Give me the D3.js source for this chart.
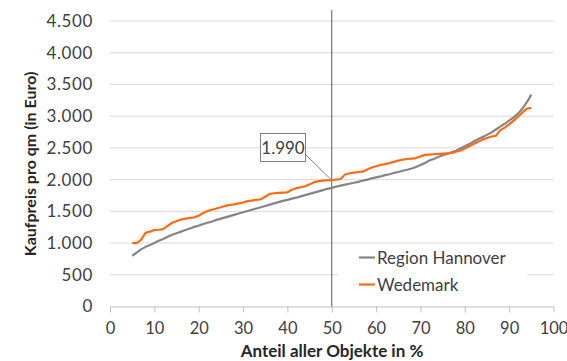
<!DOCTYPE html>
<html>
<head>
<meta charset="utf-8">
<script src="https://cdn.jsdelivr.net/npm/d3@7"></script>
<style>
  body { margin: 0; background: #fff; }
  svg { font-family: Lato, "Open Sans", sans-serif; }
</style>
</head>
<body>
<script>
// chart data
var pct = d3.range(5, 96);   // Anteil aller Objekte in % (5..95)
var hannover = [
  800, 850, 900, 940, 970, 1000, 1035, 1065, 1100, 1130,
  1155, 1180, 1205, 1230, 1255, 1275, 1300, 1320, 1340, 1365,
  1385, 1405, 1425, 1445, 1465, 1485, 1505, 1525, 1545, 1565,
  1585, 1605, 1625, 1645, 1665, 1680, 1700, 1715, 1735, 1755,
  1775, 1795, 1815, 1835, 1855, 1870, 1890, 1905, 1920, 1935,
  1950, 1965, 1985, 2000, 2020, 2035, 2050, 2070, 2085, 2105,
  2120, 2140, 2155, 2175, 2200, 2230, 2260, 2300, 2325, 2355,
  2385, 2405, 2430, 2455, 2490, 2525, 2560, 2600, 2635, 2670,
  2705, 2745, 2790, 2835, 2880, 2930, 2980, 3040, 3120, 3220, 3340
];
var wedemark = [
  1000, 1000, 1050, 1160, 1180, 1205, 1210, 1220, 1270, 1320,
  1345, 1370, 1385, 1395, 1405, 1430, 1475, 1505, 1525, 1545,
  1565, 1585, 1600, 1610, 1625, 1640, 1660, 1670, 1680, 1690,
  1730, 1775, 1785, 1790, 1795, 1800, 1840, 1865, 1880, 1895,
  1925, 1960, 1975, 1985, 1990, 1990, 2000, 2010, 2080, 2100,
  2110, 2120, 2125, 2160, 2190, 2210, 2230, 2245, 2260, 2280,
  2300, 2315, 2325, 2330, 2340, 2365, 2390, 2395, 2400, 2405,
  2410, 2415, 2420, 2440, 2460, 2490, 2525, 2560, 2595, 2630,
  2655, 2680, 2690, 2780, 2820, 2870, 2930, 2990, 3060, 3120, 3130
];
var yTicks = [0, 500, 1000, 1500, 2000, 2500, 3000, 3500, 4000, 4500];
var xTicks = [0, 10, 20, 30, 40, 50, 60, 70, 80, 90, 100];
var seriesNames = ["Region Hannover", "Wedemark"];
var markX = 50, markValue = 1990;

var w = 567, h = 361;
var svg = d3.select("body").append("svg")
  .attr("width", w)
  .attr("height", h);

var x = d3.scaleLinear().domain([0, 100]).range([110, 553.5]);
var y = d3.scaleLinear().domain([0, 4500]).range([306.5, 21]);
var fmt = function(d) { return d3.format(",")(d).replace(/,/g, "."); };

// gridlines
svg.append("g")
  .selectAll("line")
  .data(yTicks.filter(function(d) { return d > 0; }))
  .enter().append("line")
  .attr("x1", x(0)).attr("x2", x(100))
  .attr("y1", function(d) { return y(d); })
  .attr("y2", function(d) { return y(d); })
  .attr("stroke", "#d9d9d9")
  .attr("stroke-width", 1);

// y axis labels (no line)
var yAxis = svg.append("g")
  .attr("transform", "translate(" + x(0) + ",0)")
  .call(d3.axisLeft(y).tickValues(yTicks).tickFormat(fmt).tickSize(0).tickPadding(17));
yAxis.select(".domain").remove();
yAxis.selectAll("text").attr("font-size", 17).attr("fill", "#404040")
  .attr("letter-spacing", 0.6)
  .attr("font-family", "Lato, sans-serif");

// x axis
var xAxis = svg.append("g")
  .attr("transform", "translate(0," + y(0) + ")")
  .call(d3.axisBottom(x).tickValues(xTicks).tickSizeOuter(0).tickSizeInner(6).tickPadding(10));
xAxis.select(".domain").attr("stroke", "#bfbfbf");
xAxis.selectAll(".tick line").attr("stroke", "#bfbfbf");
xAxis.selectAll("text").attr("font-size", 16.5).attr("fill", "#404040")
  .attr("font-family", "Lato, sans-serif");

// axis titles
svg.append("text")
  .attr("transform", "translate(36,164) rotate(-90)")
  .attr("text-anchor", "middle")
  .attr("font-size", 16).attr("font-weight", "bold").attr("fill", "#262626")
  .text("Kaufpreis pro qm (in Euro)");
svg.append("text")
  .attr("x", 332).attr("y", 357)
  .attr("text-anchor", "middle")
  .attr("font-size", 17).attr("font-weight", "bold").attr("fill", "#262626")
  .text("Anteil aller Objekte in %");

// legend background (drawn before the marker line)
svg.append("rect")
  .attr("x", 338).attr("y", 246).attr("width", 189).attr("height", 52)
  .attr("fill", "#fff");

// vertical marker at 50 %
svg.append("line")
  .attr("x1", x(markX)).attr("x2", x(markX))
  .attr("y1", 10).attr("y2", y(0))
  .attr("stroke", "#595959").attr("stroke-width", 1);

// lines
var line = d3.line()
  .x(function(d) { return x(d[0]); })
  .y(function(d) { return y(d[1]); });
var colors = ["#858585", "#ff6a13"];
[hannover, wedemark].forEach(function(vals, i) {
  svg.append("path")
    .datum(pct.map(function(p, j) { return [p, vals[j]]; }))
    .attr("fill", "none")
    .attr("stroke", colors[i])
    .attr("stroke-width", 2.2)
    .attr("stroke-linejoin", "round")
    .attr("d", line);
});

// annotation 1.990
svg.append("line")
  .attr("x1", 306).attr("y1", 155)
  .attr("x2", x(markX)).attr("y2", y(markValue))
  .attr("stroke", "#7f7f7f").attr("stroke-width", 1);
svg.append("rect")
  .attr("x", 260.5).attr("y", 133.5).attr("width", 45).attr("height", 28)
  .attr("fill", "#fff").attr("stroke", "#7f7f7f").attr("stroke-width", 1);
svg.append("text")
  .attr("x", 283).attr("y", 154)
  .attr("text-anchor", "middle")
  .attr("font-size", 17).attr("fill", "#404040")
  .text(fmt(markValue));

// legend
var legend = svg.append("g").selectAll("g")
  .data(seriesNames)
  .enter().append("g")
  .attr("transform", function(d, i) { return "translate(359," + (257.5 + i * 27) + ")"; });
legend.append("line")
  .attr("x1", 0).attr("x2", 16)
  .attr("stroke", function(d, i) { return colors[i]; })
  .attr("stroke-width", 2.2);
legend.append("text")
  .attr("x", 18).attr("y", 6)
  .attr("font-size", 17).attr("fill", "#404040")
  .text(function(d) { return d; });
</script>
</body>
</html>
